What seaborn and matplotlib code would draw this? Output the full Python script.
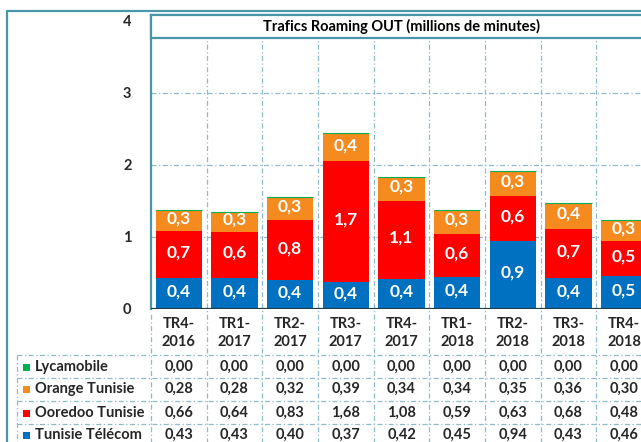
import seaborn as sns
import matplotlib.pyplot as plt
from matplotlib.lines import Line2D
from matplotlib.patches import Rectangle
import numpy as np

sns.set_style("white")
plt.rcParams['font.family'] = ['Lato', 'DejaVu Sans']

# data (millions de minutes)
categories = ['TR4-\n2016', 'TR1-\n2017', 'TR2-\n2017', 'TR3-\n2017', 'TR4-\n2017',
              'TR1-\n2018', 'TR2-\n2018', 'TR3-\n2018', 'TR4-\n2018']
tunisie_telecom = [0.43, 0.43, 0.40, 0.37, 0.42, 0.449, 0.94, 0.43, 0.46]
ooredoo = [0.66, 0.64, 0.83, 1.68, 1.08, 0.59, 0.63, 0.68, 0.48]
orange = [0.28, 0.28, 0.32, 0.39, 0.34, 0.34, 0.35, 0.36, 0.30]
lycamobile = [0.00, 0.00, 0.00, 0.00, 0.00, 0.00, 0.00, 0.00, 0.00]

series_names = ['Lycamobile', 'Orange Tunisie', 'Ooredoo Tunisie', 'Tunisie Télécom']
colors = {'Lycamobile': '#00B050', 'Orange Tunisie': '#F58A1F',
          'Ooredoo Tunisie': '#FF0000', 'Tunisie Télécom': '#0070C0'}
frame_col = '#4896A8'
grid_col = '#8DBBC8'
bar_w = 0.83

W, H = 641, 442
fig = plt.figure(figsize=(W / 100, H / 100), dpi=100)

def fx(px):
    return px / W

def fy(py):
    return 1 - py / H

# plot area (extends past the right edge, as in the cropped original)
ax = fig.add_axes([fx(151), fy(309), fx(652 - 151), fy(15) - fy(309)])

# stacked bars drawn as overlapping cumulative totals
tt = np.array(tunisie_telecom)
oo = np.array(ooredoo)
orr = np.array(orange)
ly = np.array(lycamobile)
cum = {
    'Orange Tunisie': tt + oo + orr,
    'Ooredoo Tunisie': tt + oo,
    'Tunisie Télécom': tt,
}
xs = list(range(len(categories)))
for name in ['Orange Tunisie', 'Ooredoo Tunisie', 'Tunisie Télécom']:
    sns.barplot(x=xs, y=cum[name], color=colors[name], saturation=1, width=bar_w,
                ax=ax, edgecolor='none', linewidth=0, zorder=3)
# Lycamobile (0) shows as a thin green cap on top
total = tt + oo + orr + ly
ax.hlines(total, np.array(xs) - bar_w / 2, np.array(xs) + bar_w / 2,
          color=colors['Lycamobile'], lw=0.8, zorder=4)

ax.set_xlim(-0.5, 8.5)
ax.set_ylim(0, 4.083)
ax.set_yticks([0, 1, 2, 3, 4])
ax.set_yticklabels(['0', '1', '2', '3', '4'], fontsize=10.5, fontweight='bold')
ax.tick_params(axis='y', length=0, pad=14)
ax.tick_params(axis='x', length=0, labelbottom=False)
ax.set_xlabel('')
ax.set_ylabel('')

# grid
dash = (0, (4, 2, 1, 2))
for yv in [1, 2, 3]:
    ax.axhline(yv, color=grid_col, lw=0.9, ls=dash, zorder=1)
for xv in np.arange(0.5, 8.5, 1):
    ax.axvline(xv, ymin=-0.46, ymax=0.92, color=grid_col, lw=0.9,
               ls=dash, zorder=1, clip_on=False)
ax.axvline(-0.5, ymin=-0.46, ymax=-0.01, color=grid_col, lw=0.9,
           ls=dash, zorder=1, clip_on=False)

# spines
for s in ['right', 'bottom']:
    ax.spines[s].set_visible(False)
ax.spines['left'].set_color(frame_col)
ax.spines['left'].set_linewidth(1.6)
ax.spines['top'].set_color(frame_col)
ax.spines['top'].set_linewidth(1.6)
ax.axhline(0, color='#1E3F4C', lw=1.6, zorder=5)

# title box
ytb = (309 - 38) / 294
ax.add_patch(Rectangle((0, ytb), 1, 1 - ytb, transform=ax.transAxes,
                       facecolor='white', edgecolor=frame_col, lw=1.6,
                       zorder=5, clip_on=False))
ax.text(0.5, (ytb + 1) / 2, 'Trafics Roaming OUT (millions de minutes)',
        transform=ax.transAxes, ha='center', va='center', fontsize=10.5,
        fontweight='bold', color='black', zorder=6)

# segment labels
def fmt(v, d):
    return f"{v:.{d}f}".replace('.', ',')

for i in xs:
    segs = [(0, tt[i]), (tt[i], oo[i]), (tt[i] + oo[i], orr[i])]
    for bottom, v in segs:
        ax.text(i, bottom + v / 2 + 0.03, fmt(v, 1), ha='center', va='center',
                color='white', fontsize=12.5, fontweight='bold', zorder=6)

# category labels under the axis
for i, lab in enumerate(categories):
    ax.text(i, (309 - 333) / 294, lab, ha='center', va='center', fontsize=10.5,
            fontweight='bold', linespacing=1.35, transform=ax.get_xaxis_transform(),
            clip_on=False)

# data table
row_y = [367, 389, 413, 435]
row_vals = [lycamobile, orange, ooredoo, [round(v, 2) for v in tunisie_telecom]]
for name, py, vals in zip(series_names, row_y, row_vals):
    fig.patches.append(Rectangle((fx(23), fy(py) - 3.5 / H), 7 / W, 7 / H,
                                 transform=fig.transFigure, facecolor=colors[name],
                                 edgecolor='none'))
    fig.text(fx(35), fy(py), name, ha='left', va='center', fontsize=10.5,
             fontweight='bold')
    for i, v in enumerate(vals):
        ax.text(i, (309 - py) / 294, fmt(v, 2), ha='center', va='center',
                fontsize=10.5, fontweight='bold', transform=ax.get_xaxis_transform(),
                clip_on=False)

for py in [355, 378, 401, 424]:
    fig.lines.append(Line2D([fx(17), 1], [fy(py), fy(py)], transform=fig.transFigure,
                            color=grid_col, lw=0.9, ls=dash))
fig.lines.append(Line2D([fx(17), fx(17)], [fy(355), 0], transform=fig.transFigure,
                        color=grid_col, lw=0.9, ls=dash))

# outer chart frame
fig.lines.append(Line2D([fx(7), 1], [fy(11), fy(11)], transform=fig.transFigure,
                        color=frame_col, lw=1.6))
fig.lines.append(Line2D([fx(7), fx(7)], [fy(11), 0], transform=fig.transFigure,
                        color=frame_col, lw=1.6))

fig.savefig('out.png', dpi=100)
